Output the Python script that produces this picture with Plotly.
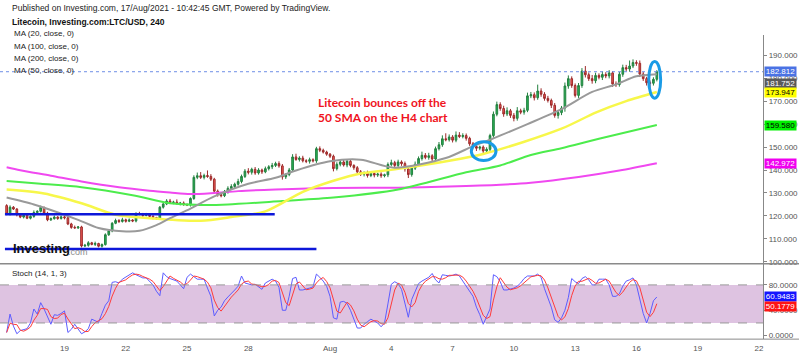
import pandas as pd
import plotly.graph_objects as go

# ---------------- data ----------------
first_open = 124.5
closes = [
    120.8,123.8,123.0,120.5,119.5,120.3,119.0,119.8,121.5,122.0,123.7,121.2,118.3,118.8,119.5,118.9,119.6,119.2,116.5,115.0,114.8,115.2,106.9,107.2,
    108.3,107.6,108.0,106.8,107.5,111.8,113.5,116.8,118.0,117.6,118.3,117.7,118.2,117.8,121.0,120.8,120.2,120.6,119.8,119.3,118.8,123.8,125.2,126.5,
    125.8,126.0,125.4,125.6,125.0,124.8,127.6,136.8,137.5,136.8,137.6,137.2,136.0,130.8,129.3,128.8,130.5,132.0,132.8,133.8,135.0,137.2,139.5,139.0,
    140.3,138.7,140.0,139.2,140.6,141.4,142.0,142.8,141.8,137.0,138.0,140.0,145.7,144.6,145.2,144.0,143.8,144.5,144.0,149.3,148.6,147.8,146.9,146.0,
    140.6,142.5,143.5,142.2,143.8,142.0,141.0,139.2,138.2,138.8,137.6,138.5,137.8,138.2,137.5,137.9,142.4,143.2,142.0,143.5,142.8,140.5,138.0,140.8,
    142.5,145.0,146.4,145.5,146.2,144.8,149.3,151.0,153.6,153.2,154.4,153.0,155.2,154.6,155.0,153.8,151.4,150.2,149.5,150.0,148.3,149.0,155.0,164.3,
    168.5,166.8,164.4,165.8,163.8,162.5,165.8,165.2,166.0,172.3,172.8,171.5,174.4,173.0,171.2,170.3,168.2,163.8,165.0,167.0,176.6,179.8,176.8,172.5,
    176.8,183.1,181.5,179.8,178.9,181.2,180.4,181.6,181.0,182.3,177.5,177.2,181.7,184.6,184.0,185.3,186.8,186.5,181.8,179.8,178.0,177.8,179.5,182.812,
]
upper_wick = [
    0.6,0.8,0.5,0.4,0.7,0.5,0.6,0.4,0.9,0.5,0.8,0.4,0.6,0.5,0.7,0.4,0.6,0.5,0.3,0.5,0.8,0.4,0.5,0.6,
    0.7,0.4,0.8,0.3,0.5,0.6,0.4,0.5,0.8,0.6,0.9,0.5,0.7,0.4,0.6,0.8,0.5,0.7,0.4,0.6,0.3,0.5,0.7,0.8,
    0.9,0.6,1.2,0.5,0.7,0.4,0.5,0.9,1.4,1.6,0.8,2.2,1.0,0.6,0.7,0.5,0.8,0.9,1.0,0.7,1.2,0.8,0.9,1.3,
    0.7,1.0,0.8,0.6,0.9,0.7,1.1,0.8,1.0,0.8,0.6,0.9,1.2,1.4,0.8,1.0,0.7,0.9,0.6,0.8,1.0,0.7,0.6,0.5,
    0.7,0.9,1.0,1.2,0.6,0.8,0.5,0.7,0.8,0.6,0.9,0.5,0.7,0.6,0.8,0.5,0.9,1.3,0.8,1.0,0.7,0.9,0.6,0.8,
    1.2,0.9,1.6,1.0,1.3,0.7,0.9,1.2,1.5,2.4,1.1,0.8,1.6,1.3,1.0,0.9,0.7,0.8,1.0,0.6,0.7,0.9,0.8,1.2,
    1.3,1.0,1.2,1.5,0.8,1.0,1.6,0.9,1.1,1.4,1.2,1.0,2.8,1.2,0.9,1.1,0.8,1.0,1.2,0.9,1.5,1.4,1.0,0.9,
    1.1,1.3,2.2,1.0,1.6,1.2,0.9,1.4,1.0,1.2,0.8,1.1,1.0,1.3,1.2,2.4,1.4,1.0,1.2,0.9,0.8,1.0,0.9,0.7,
]
lower_wick = [
    0.5,0.6,0.4,0.7,0.5,0.6,0.4,0.5,0.6,0.4,0.5,0.7,0.6,0.5,0.4,0.6,0.5,0.7,0.5,0.6,0.4,0.5,0.6,0.5,
    0.6,0.4,0.7,0.5,0.6,0.4,0.5,0.6,0.4,0.7,0.5,0.6,0.4,0.5,0.6,0.5,0.7,0.4,0.6,0.8,0.5,0.4,0.6,0.5,
    0.6,0.7,0.5,0.8,0.6,0.5,0.7,0.6,0.8,0.7,0.9,0.6,0.8,1.2,0.9,0.7,0.6,0.8,0.7,0.9,0.6,0.8,0.7,0.9,
    1.0,0.8,0.7,0.9,0.6,0.8,1.0,0.7,0.8,1.2,0.9,0.7,0.8,0.6,0.9,0.7,0.8,1.0,0.7,0.9,0.8,0.6,0.7,0.8,
    1.2,0.8,0.9,0.7,1.0,0.8,0.9,1.1,0.8,1.0,0.9,0.7,1.0,0.8,0.9,0.7,1.0,0.8,0.9,0.7,1.0,1.2,1.5,0.9,
    0.8,0.7,0.9,0.8,1.0,0.9,0.7,0.8,0.9,0.7,0.8,1.0,0.9,0.7,0.8,1.0,0.9,0.8,1.2,0.9,1.4,1.0,0.8,0.9,
    0.9,1.0,1.2,0.9,1.1,1.3,1.0,0.9,1.1,0.8,1.0,1.2,0.9,1.1,1.0,0.9,1.2,1.0,1.4,1.1,1.6,1.2,1.0,0.9,
    1.1,1.0,1.2,1.0,1.3,1.1,0.9,1.2,1.0,1.1,1.3,1.0,0.9,1.1,1.0,1.2,0.9,1.1,1.3,1.0,1.2,3.6,1.0,0.9,
]
stoch_k = [
    5,34,15,3,8,10,11,20,42,34,52,42,30,18,33,32,35,39,5,10,18,10,3,6,
    11,26,24,21,35,48,55,84,85,83,89,92,96,99,96,93,91,91,85,80,70,63,99,93,
    90,88,86,80,74,92,97,93,89,89,89,75,62,31,40,45,55,61,66,72,78,94,83,81,
    80,81,77,73,83,86,89,86,76,40,40,62,90,92,72,72,73,75,77,97,92,86,78,62,
    28,26,53,54,51,40,26,12,12,18,22,26,23,20,14,20,50,81,85,82,73,50,29,57,
    70,82,86,89,92,98,88,83,96,95,94,95,97,94,86,78,70,62,45,33,18,30,42,96,
    93,85,72,72,73,75,78,83,90,94,94,94,97,92,74,60,45,25,21,28,40,60,90,85,
    82,90,93,88,80,80,89,89,89,80,62,62,66,78,86,88,91,80,56,35,20,35,55,60.9483,
]

# moving averages sampled at candle indices
ma20_idx = [0,8,13,21,27,34,39,44,48,54,61,71,79,85,95,104,114,129,137,143,153,163,172,179,185,191]
ma20_val = [128.0,125.0,122.6,118.3,114.7,113.3,113.5,116.0,119.0,123.2,128.5,134.0,136.6,139.8,143.8,144.5,141.0,145.2,150.4,153.8,160.0,166.5,174.0,177.3,180.8,181.752]
ma50_idx = [0,11,22,32,42,57,66,76,87,96,104,115,140,163,173,182,191]
ma50_val = [131.5,129.8,125.5,120.5,119.0,117.9,119.5,122.0,130.5,135.3,138.5,140.5,147.0,158.0,165.0,170.0,173.947]
ma100_idx = [0,10,22,37,48,57,65,81,96,115,135,145,154,163,174,191]
ma100_val = [135.2,134.0,132.5,129.0,125.5,124.8,125.0,126.5,128.0,131.5,139.0,142.0,146.5,149.5,153.6,159.58]
ma200_idx = [0,4,13,22,33,42,48,54,61,68,79,96,115,130,145,154,168,180,191]
ma200_val = [141.2,139.9,137.5,135.0,132.5,131.0,130.2,129.5,130.0,130.8,131.5,132.2,132.3,132.8,133.6,134.5,137.0,139.8,142.972]

price_ticks = [100,110,120,130,140,150,160,170,180,190]
stoch_ticks = [0,40,80]
x_tick_dates = ["2021-07-19","2021-07-22","2021-07-25","2021-07-28","2021-08-01","2021-08-04",
                "2021-08-07","2021-08-10","2021-08-13","2021-08-16","2021-08-19","2021-08-22"]
x_tick_text = ["19","22","25","28","Aug","4","7","10","13","16","19","22"]

# ---------------- derived ----------------
times = pd.date_range("2021-07-16 04:00", periods=len(closes), freq="4h")
opens = [first_open] + closes[:-1]
highs = [max(o, c) + w for o, c, w in zip(opens, closes, upper_wick)]
lows = [min(o, c) - w for o, c, w in zip(opens, closes, lower_wick)]
stoch_d = pd.Series(stoch_k).rolling(3, min_periods=1).mean().tolist()

W, H = 800, 357
def py(p):
    return 1 - p / H
def px(p):
    return p / W

FONT = "Liberation Sans, Arial, sans-serif"
XR = 764 / W

fig = go.Figure()
fig.add_trace(go.Candlestick(
    x=times, open=opens, high=highs, low=lows, close=closes,
    increasing=dict(line=dict(color="#23803f", width=1), fillcolor="#27b356"),
    decreasing=dict(line=dict(color="#9c2a2a", width=1), fillcolor="#ef5a55"),
    xaxis="x", yaxis="y", hoverinfo="skip"))

for idx, vals, col, w in [(ma200_idx, ma200_val, "#f048f0", 2),
                          (ma100_idx, ma100_val, "#4cec4c", 2),
                          (ma50_idx, ma50_val, "#f7f74a", 2.5),
                          (ma20_idx, ma20_val, "#9a9a9a", 2)]:
    fig.add_trace(go.Scatter(x=[times[i] for i in idx], y=vals, mode="lines",
                             line=dict(color=col, width=w, shape="spline", smoothing=0.8),
                             xaxis="x", yaxis="y", hoverinfo="skip"))

fig.add_trace(go.Scatter(x=times, y=stoch_k, mode="lines", line=dict(color="#5c5cff", width=1),
                         xaxis="x", yaxis="y2", hoverinfo="skip"))
fig.add_trace(go.Scatter(x=times, y=stoch_d, mode="lines", line=dict(color="#ff3b3b", width=1),
                         xaxis="x", yaxis="y2", hoverinfo="skip"))

shapes = [
    # stoch band
    dict(type="rect", xref="paper", x0=0, x1=XR, yref="y2", y0=20, y1=80,
         fillcolor="#dec3e1", line=dict(width=0), layer="below"),
    dict(type="line", xref="paper", x0=0, x1=XR, yref="y2", y0=80, y1=80,
         line=dict(color="#999999", width=1, dash="dash")),
    dict(type="line", xref="paper", x0=0, x1=XR, yref="y2", y0=20, y1=20,
         line=dict(color="#999999", width=1, dash="dash")),
    # pane separators
    dict(type="line", xref="paper", x0=0, x1=1, yref="paper", y0=py(266), y1=py(266),
         line=dict(color="#8a8a8a", width=1.5)),
    dict(type="line", xref="paper", x0=0, x1=1, yref="paper", y0=py(342), y1=py(342),
         line=dict(color="#8a8a8a", width=1)),
    # current price dotted line
    dict(type="line", xref="paper", x0=0, x1=XR, yref="y", y0=182.812, y1=182.812,
         line=dict(color="#6f8fe6", width=1, dash="dot")),
    # support lines
    dict(type="line", xref="x", x0="2021-07-16 02:00", x1="2021-07-29 07:00", yref="y",
         y0=120.76, y1=120.76, line=dict(color="#0d17d9", width=2.5)),
    dict(type="line", xref="x", x0="2021-07-16 02:00", x1="2021-07-31 08:00", yref="y",
         y0=105.64, y1=105.64, line=dict(color="#0d17d9", width=2.5)),
    # highlight ellipses
    dict(type="circle", xref="x", yref="y", x0="2021-08-07 22:00", x1="2021-08-09 03:00",
         y0=144.1, y1=152.3, line=dict(color="#1a9be6", width=3)),
    dict(type="circle", xref="x", yref="y", x0="2021-08-16 14:30", x1="2021-08-17 04:30",
         y0=171.3, y1=187.3, line=dict(color="#1a9be6", width=3)),
]

ann = []
def text(x, y, s, size=8, color="#222", bold=False, family=FONT):
    ann.append(dict(xref="paper", yref="paper", x=px(x), y=py(y), xanchor="left", yanchor="middle",
                    text=("<b>%s</b>" % s) if bold else s, showarrow=False,
                    font=dict(size=size, color=color, family=family)))

text(10, 8, "Published on Investing.com, 17/Aug/2021 - 10:42:45 GMT, Powered by TradingView.", 8.5)
text(10, 22, "Litecoin, Investing.com:LTC/USD, 240", 8.5, "#111", True)
for yy, s in [(34, "MA (20, close, 0)"), (46.5, "MA (100, close, 0)"),
              (59, "MA (200, close, 0)"), (71.5, "MA (50, close, 0)")]:
    text(12, yy, s, 8, "#222")
text(10, 276, "Stoch (14, 1, 3)", 8, "#222")
text(316, 103, "Litecoin bounces off the", 12, "#f0141e", True, "Lato, Carlito, sans-serif")
text(316, 119, "50 SMA on the H4 chart", 12, "#f0141e", True, "Lato, Carlito, sans-serif")
text(11, 251, "Investing", 13, "#111", True)
text(66, 254, ".com", 9, "#8a8a8a")

def tag(y, s, bg, fg, yref="y", yshift=0):
    ann.append(dict(xref="paper", x=765 / W, xanchor="left", yref=yref, y=y, yanchor="middle",
                    yshift=yshift, text=s, showarrow=False, bgcolor=bg, width=31, height=9,
                    borderpad=0, align="center", font=dict(size=8, color=fg, family=FONT)))

tag(182.812, "182.812", "#4a72e4", "white")
tag(181.752, "181.752", "#5a5a5a", "white", yshift=-9)
tag(173.947, "173.947", "#ffff00", "black")
tag(159.58, "159.580", "#00f000", "black")
tag(142.972, "142.972", "#f000f0", "white")
tag(60.9483, "60.9483", "#1414ff", "white", "y2")
tag(50.1779, "50.1779", "#ff1414", "white", "y2", yshift=-3)

fig.update_layout(
    width=W, height=H, margin=dict(l=0, r=0, t=0, b=0),
    paper_bgcolor="white", plot_bgcolor="white", showlegend=False,
    shapes=shapes, annotations=ann,
    xaxis=dict(domain=[0, XR], anchor="y2", type="date",
               range=["2021-07-15 20:12", "2021-08-22 04:48"],
               tickvals=x_tick_dates, ticktext=x_tick_text, showgrid=False, zeroline=False,
               ticks="", ticklabelstandoff=3, tickfont=dict(size=8, color="#555", family=FONT),
               rangeslider=dict(visible=False), showline=False),
    yaxis=dict(domain=[py(266), py(35)], range=[99.16, 198.94], side="right", anchor="x",
               tickvals=price_ticks, ticktext=["%.3f" % v for v in price_ticks],
               ticks="outside", ticklen=3, tickcolor="#888", showgrid=False, zeroline=False,
               showline=True, linecolor="#888", linewidth=1,
               tickfont=dict(size=8, color="#555", family=FONT)),
    yaxis2=dict(domain=[py(342), py(266)], range=[-5.47, 113.3], side="right", anchor="x",
                tickvals=stoch_ticks, ticktext=["%.4f" % v for v in stoch_ticks],
                ticks="outside", ticklen=3, tickcolor="#888", showgrid=False, zeroline=False,
                showline=True, linecolor="#888", linewidth=1,
                tickfont=dict(size=8, color="#555", family=FONT)),
)

fig.write_html("out.html", config={"displayModeBar": False},
               post_script="document.body.style.margin='0';")
